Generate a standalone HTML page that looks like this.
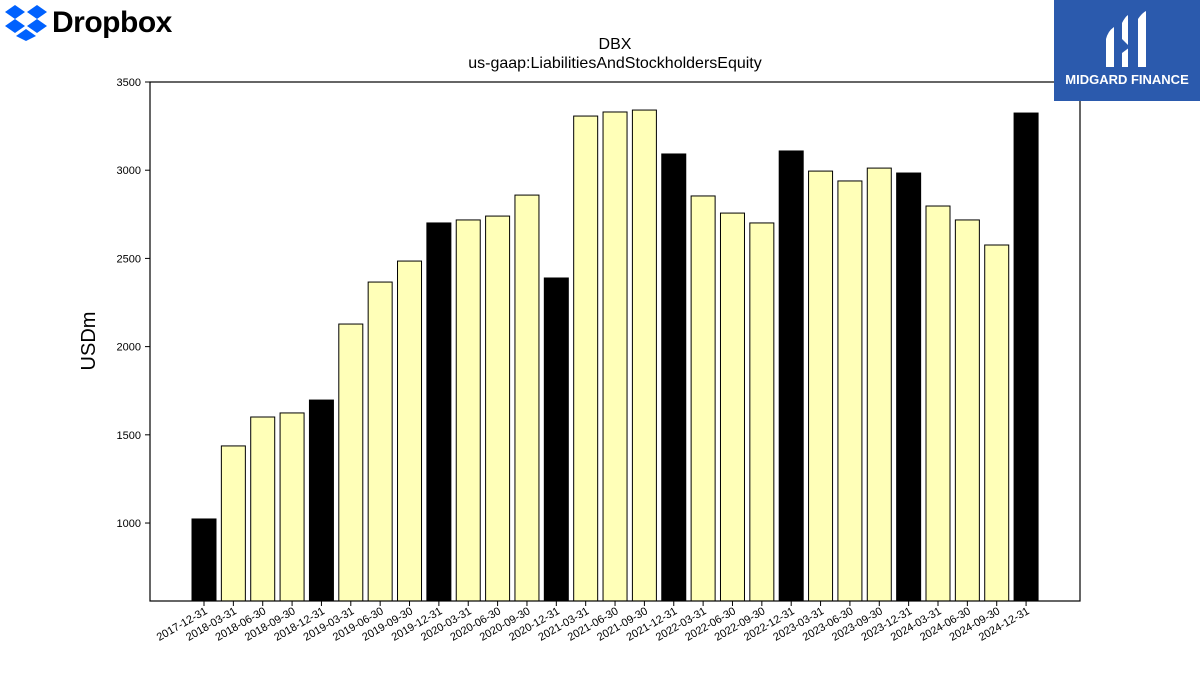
<!DOCTYPE html>
<html><head><meta charset="utf-8"><style>
body{margin:0;background:#fff;font-family:"Liberation Sans","DejaVu Sans",sans-serif;}
#wrap{position:relative;width:1200px;height:675px;overflow:hidden;}
</style></head><body>
<div id="wrap">
<svg id="chart" width="1200" height="675" style="position:absolute;left:0;top:0"></svg>
<div style="position:absolute;left:5px;top:5px;height:36px;display:flex;align-items:center;">
<svg width="42" height="36" viewBox="0 0 42 36">
<polygon points="10,0 20,7 10,14 0,7" fill="#0061fe"/><polygon points="32,0 42,7 32,14 22,7" fill="#0061fe"/>
<polygon points="10,14 20,21 10,28 0,21" fill="#0061fe"/><polygon points="32,14 42,21 32,28 22,21" fill="#0061fe"/>
<polygon points="21,24 31,31 21,36 11,31" fill="#0061fe"/></svg>
<span style="font-size:30px;font-weight:bold;color:#000;margin-left:5px;letter-spacing:-0.5px">Dropbox</span></div>
<div style="position:absolute;left:1054px;top:0;width:146px;height:101px;background:#2b5aad;color:#fff;text-align:center;">
<svg width="50" height="62" viewBox="0 0 50 62" style="margin-top:9px">
<path d="M4,30 Q6,22 12,18 L12,58 L4,58 Z" fill="#fff"/><path d="M20,14 Q23,8 26,6 L26,58 L20,58 Z" fill="#fff"/>
<path d="M36,10 Q40,4 44,2 L44,58 L36,58 Z" fill="#fff"/><path d="M12,38 L20,30 L28,38 L20,44 Z" fill="#2b5aad"/></svg>
<div style="font-size:13px;font-weight:bold;margin-top:-4px">MIDGARD FINANCE</div></div>
</div>
<script>
const categories=["2017-12-31","2018-03-31","2018-06-30","2018-09-30","2018-12-31","2019-03-31","2019-06-30","2019-09-30","2019-12-31","2020-03-31","2020-06-30","2020-09-30","2020-12-31","2021-03-31","2021-06-30","2021-09-30","2021-12-31","2022-03-31","2022-06-30","2022-09-30","2022-12-31","2023-03-31","2023-06-30","2023-09-30","2023-12-31","2024-03-31","2024-06-30","2024-09-30","2024-12-31"];
const values=[1023,1437,1601,1624,1697,2128,2366,2485,2701,2718,2740,2859,2389,3307,3330,3341,3092,2854,2757,2701,3109,2995,2939,3012,2984,2797,2718,2576,3324];
const yTicks=[1000,1500,2000,2500,3000,3500];
const NS="http://www.w3.org/2000/svg";
const svg=document.getElementById('chart');
const L=150,R=1080,T=82,B=601;
const yMin=558,yMax=3500;
const y=v=>B-(v-yMin)/(yMax-yMin)*(B-T);
const step=29.36,x0=204;
const x=i=>x0+i*step;
function mk(tag,attrs){const e=document.createElementNS(NS,tag);for(const k in attrs)e.setAttribute(k,attrs[k]);svg.appendChild(e);return e;}
values.forEach((v,i)=>{
 const q4=categories[i].endsWith("12-31");
 const r=mk('rect',{x:x(i)-12,y:y(v),width:24,height:B-y(v),fill:q4?'#000':'#ffffb8',stroke:'#000','stroke-width':1});
 
 
 const t=mk('line',{x1:x(i),x2:x(i),y1:B,y2:B+5,stroke:'#000'});
 
 
 const lb=mk('text',{x:x(i)+4,y:B+12,'font-size':11,'text-anchor':'end',transform:`rotate(-30 ${x(i)+4} ${B+12})`,'font-family':'Liberation Sans, DejaVu Sans, sans-serif'});
 lb.textContent=categories[i];
 
 
});
yTicks.forEach(v=>{
 const t=mk('line',{x1:L-5,x2:L,y1:y(v),y2:y(v),stroke:'#000'});
 
 
 const lb=mk('text',{x:L-9,y:y(v)+4,'font-size':11,'text-anchor':'end','font-family':'Liberation Sans, DejaVu Sans, sans-serif'});
 lb.textContent=v;
 
 
});
const fr=mk('rect',{x:L,y:T,width:R-L,height:B-T,fill:'none',stroke:'#000','stroke-width':1.2});


const yl=mk('text',{x:95,y:341,'font-size':20,'text-anchor':'middle',transform:'rotate(-90 95 341)','font-family':'Liberation Sans, DejaVu Sans, sans-serif'});
yl.textContent='USDm';


const t1=mk('text',{x:615,y:49,'font-size':16,'text-anchor':'middle','font-family':'Liberation Sans, DejaVu Sans, sans-serif'});
t1.textContent='DBX';


const t2=mk('text',{x:615,y:68,'font-size':16,'text-anchor':'middle','font-family':'Liberation Sans, DejaVu Sans, sans-serif'});
t2.textContent='us-gaap:LiabilitiesAndStockholdersEquity';


</script>
</body></html>
